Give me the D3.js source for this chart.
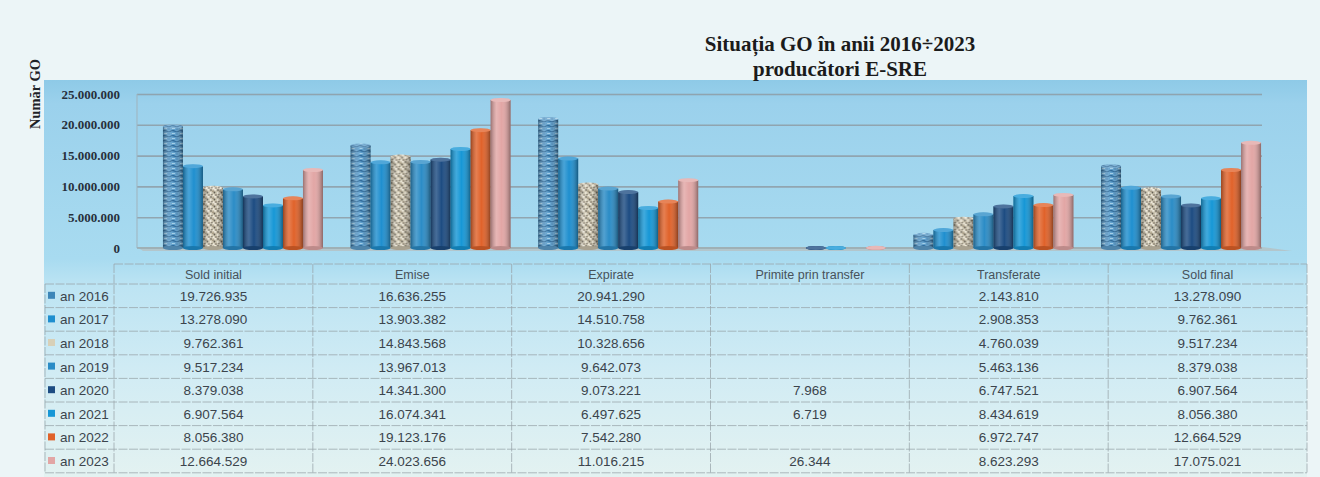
<!DOCTYPE html>
<html>
<head>
<meta charset="utf-8">
<script src="https://cdn.jsdelivr.net/npm/d3@7"></script>
<style>
  html, body { margin: 0; padding: 0; background: #ecf5f7; }
  svg { display: block; }
</style>
</head>
<body>
<svg id="chart" width="1320" height="477"></svg>
<script>
// ---------- DATA ----------
const categories = ["Sold initial", "Emise", "Expirate", "Primite prin transfer", "Transferate", "Sold final"];
const years = ["an 2016", "an 2017", "an 2018", "an 2019", "an 2020", "an 2021", "an 2022", "an 2023"];
const an2016 = [19726935, 16636255, 20941290, null, 2143810, 13278090];
const an2017 = [13278090, 13903382, 14510758, null, 2908353, 9762361];
const an2018 = [9762361, 14843568, 10328656, null, 4760039, 9517234];
const an2019 = [9517234, 13967013, 9642073, null, 5463136, 8379038];
const an2020 = [8379038, 14341300, 9073221, 7968, 6747521, 6907564];
const an2021 = [6907564, 16074341, 6497625, 6719, 8434619, 8056380];
const an2022 = [8056380, 19123176, 7542280, null, 6972747, 12664529];
const an2023 = [12664529, 24023656, 11016215, 26344, 8623293, 17075021];
const seriesValues = [an2016, an2017, an2018, an2019, an2020, an2021, an2022, an2023];
const yTicks = [0, 5000000, 10000000, 15000000, 20000000, 25000000];
const titleLines = ["Situația GO în anii 2016÷2023", "producători E-SRE"];
const yTitle = "Număr GO";

// ---------- STYLE ----------
const seriesFill = ["url(#p2016)", "#1f8fcf", "url(#p2018)", "#2b8cc6", "#1d4c82", "#1697d6", "#e0622a", "#e2a6a5"];
const seriesBase = ["#5d9ecb", "#1f8fcf", "#c9c1ab", "#2b8cc6", "#1d4c82", "#1697d6", "#e0622a", "#e2a6a5"];

const locale = d3.formatLocale({decimal: ",", thousands: ".", grouping: [3], currency: ["", ""]});
const fmt = locale.format(",d");

const svg = d3.select("#chart");
const defs = svg.append("defs");

// background gradient
const bg = defs.append("linearGradient").attr("id", "bgGrad").attr("x1", 0).attr("y1", 0).attr("x2", 0).attr("y2", 1);
[[0, "#8ecae7"], [0.06, "#9bd1ec"], [0.45, "#a8dbf0"], [0.52, "#bde4f3"], [0.75, "#d2ecf4"], [1, "#e3f2f1"]]
  .forEach(([o, c]) => bg.append("stop").attr("offset", o).attr("stop-color", c));

// cylinder shading overlay
const sh = defs.append("linearGradient").attr("id", "shade").attr("x1", 0).attr("x2", 1).attr("y1", 0).attr("y2", 0);
[[0, "#000", 0.32], [0.3, "#fff", 0.18], [0.55, "#fff", 0.0], [1, "#000", 0.38]]
  .forEach(([o, c, a]) => sh.append("stop").attr("offset", o).attr("stop-color", c).attr("stop-opacity", a));

// textures
const p16 = defs.append("pattern").attr("id", "p2016").attr("patternUnits", "userSpaceOnUse").attr("width", 8).attr("height", 5);
p16.append("rect").attr("width", 8).attr("height", 5).attr("fill", "#5d9ecb");
p16.append("path").attr("d", "M0,1 Q2,0 4,1.2 T8,1").attr("stroke", "#2b6898").attr("stroke-width", 1.2).attr("fill", "none");
p16.append("rect").attr("x", 1).attr("y", 3).attr("width", 3).attr("height", 1).attr("fill", "#a3cde6");
p16.append("rect").attr("x", 5).attr("y", 3.5).attr("width", 2).attr("height", 1).attr("fill", "#3f7fb0");

const p18 = defs.append("pattern").attr("id", "p2018").attr("patternUnits", "userSpaceOnUse").attr("width", 7).attr("height", 7);
p18.append("rect").attr("width", 7).attr("height", 7).attr("fill", "#cbc3ad");
[[1, 1, "#6b6558"], [4.5, 3.5, "#5f5a4f"], [2, 5.6, "#7a7262"], [3, 2.2, "#9b8f78"], [6, 6, "#8a8070"]]
  .forEach(([cx, cy, c]) => p18.append("circle").attr("cx", cx).attr("cy", cy).attr("r", 0.9).attr("fill", c));
[[5.2, 0.8], [0.6, 4], [3.5, 6.3]]
  .forEach(([cx, cy]) => p18.append("circle").attr("cx", cx).attr("cy", cy).attr("r", 1).attr("fill", "#efeadc"));

// ---------- BACKGROUND ----------
svg.append("rect").attr("width", 1320).attr("height", 477).attr("fill", "#ecf5f7");
svg.append("rect").attr("x", 44).attr("y", 80).attr("width", 1263).attr("height", 397).attr("fill", "url(#bgGrad)");

// ---------- TITLE ----------
svg.append("g").selectAll("text").data(titleLines).join("text")
  .attr("x", 840).attr("y", (d, i) => 51 + i * 25)
  .attr("text-anchor", "middle")
  .attr("font-family", "'Liberation Serif', 'Times New Roman', serif")
  .attr("font-weight", "bold").attr("font-size", 21)
  .attr("fill", "#1b1b1b").text(d => d);

svg.append("text")
  .attr("transform", "translate(40,94) rotate(-90)")
  .attr("text-anchor", "middle")
  .attr("font-family", "'Liberation Serif', 'Times New Roman', serif")
  .attr("font-weight", "bold").attr("font-size", 14.5)
  .attr("fill", "#1e2227").text(yTitle);

// ---------- SCALES ----------
const wallL = 137, wallR = 1262;
const y = d3.scaleLinear().domain([0, 25000000]).range([248, 94]);
const x = d3.scaleBand().domain(categories).range([150, 1274]).paddingInner(0.147).paddingOuter(0.069);
const xs = d3.scaleBand().domain(years).range([0, x.bandwidth()]).padding(0);

// gridlines
const grid = svg.append("g").attr("transform", `translate(${wallL},0)`)
  .call(d3.axisLeft(y).tickValues(yTicks.slice(1)).tickSize(-(wallR - wallL)).tickFormat(""));
grid.select(".domain").remove();
grid.selectAll(".tick line").attr("stroke", "#8e9ca4").attr("stroke-width", 1.6).attr("stroke-opacity", 0.85);

// left wall edge
svg.append("line").attr("x1", wallL).attr("x2", wallL).attr("y1", y(25000000)).attr("y2", y(0))
  .attr("stroke", "#9fb3bd").attr("stroke-width", 1);

// floor
svg.append("path")
  .attr("d", `M${wallL},${y(0) - 1} L${wallR},${y(0) - 1} L${wallR + 30},${y(0) + 3} L${wallL + 6},${y(0) + 3} Z`)
  .attr("fill", "#b4c3c8").attr("opacity", 0.9);
svg.append("line").attr("x1", wallL).attr("x2", wallR).attr("y1", y(0)).attr("y2", y(0))
  .attr("stroke", "#98a8ae").attr("stroke-width", 1.5);

// y axis labels
const yAx = svg.append("g").attr("transform", `translate(${wallL},0)`)
  .call(d3.axisLeft(y).tickValues(yTicks).tickSize(0).tickPadding(17).tickFormat(d => fmt(d)));
yAx.select(".domain").remove();
yAx.selectAll("text")
  .attr("font-family", "'Liberation Serif', 'Times New Roman', serif")
  .attr("font-weight", "bold").attr("font-size", 13).attr("fill", "#27303c");

// ---------- BARS ----------
const barData = [];
categories.forEach((c, ci) => {
  years.forEach((yr, si) => {
    const v = seriesValues[si][ci];
    if (v !== null && v !== undefined) barData.push({c, yr, si, v});
  });
});

const bw = xs.bandwidth();
const bars = svg.append("g").selectAll("g").data(barData).join("g")
  .attr("transform", d => `translate(${x(d.c) + xs(d.yr)},0)`);

bars.append("rect")
  .attr("x", 0).attr("width", bw)
  .attr("y", d => y(d.v)).attr("height", d => y(0) - y(d.v))
  .attr("fill", d => seriesFill[d.si]);
bars.append("rect")
  .attr("x", 0).attr("width", bw)
  .attr("y", d => y(d.v)).attr("height", d => y(0) - y(d.v))
  .attr("fill", "url(#shade)");
bars.append("ellipse")
  .attr("cx", bw / 2).attr("cy", y(0)).attr("rx", bw / 2).attr("ry", 2)
  .attr("fill", d => d3.color(seriesBase[d.si]).darker(0.5));
bars.append("ellipse")
  .attr("cx", bw / 2).attr("cy", d => y(d.v)).attr("rx", bw / 2).attr("ry", 2)
  .attr("fill", d => seriesFill[d.si]);
bars.append("ellipse")
  .attr("cx", bw / 2).attr("cy", d => y(d.v)).attr("rx", bw / 2).attr("ry", 2)
  .attr("fill", "#fff").attr("fill-opacity", 0.22);

// ---------- DATA TABLE ----------
const tx = d3.scaleBand().domain(categories).range([114, 1307]);
const headTop = 264, headBot = 284, rowH = 23.6;
const tableBottom = headBot + rowH * years.length;
const legL = 45;
const tfont = "'Liberation Sans', Arial, sans-serif";
const lineCol = "#98a4a9";

const tbl = svg.append("g");
const styleLine = sel => sel.attr("stroke", lineCol).attr("stroke-width", 1)
  .attr("stroke-opacity", 0.75).attr("stroke-dasharray", "9,1.5");
// horizontal lines
tbl.append("line").attr("x1", 114).attr("x2", 1307).attr("y1", headTop).attr("y2", headTop).call(styleLine);
d3.range(years.length + 1).forEach(i => {
  tbl.append("line").attr("x1", legL).attr("x2", 1307)
    .attr("y1", headBot + i * rowH).attr("y2", headBot + i * rowH).call(styleLine);
});
// vertical lines
const vEdges = categories.map(c => tx(c)).concat([tx.range()[1]]);
vEdges.forEach(xv => {
  tbl.append("line").attr("x1", xv).attr("x2", xv).attr("y1", headTop).attr("y2", tableBottom).call(styleLine);
});
tbl.append("line").attr("x1", legL).attr("x2", legL).attr("y1", headBot).attr("y2", tableBottom).call(styleLine);

// header
tbl.selectAll("text.head").data(categories).join("text").attr("class", "head")
  .attr("x", d => tx(d) + tx.bandwidth() / 2).attr("y", (headTop + headBot) / 2 + 4.5)
  .attr("text-anchor", "middle").attr("font-family", tfont).attr("font-size", 12.5)
  .attr("fill", "#47525a").text(d => d);

// rows
years.forEach((yr, si) => {
  const cy = headBot + si * rowH + rowH / 2;
  tbl.append("rect").attr("x", 48).attr("y", cy - 4).attr("width", 7).attr("height", 7)
    .attr("fill", si === 0 ? "#3d86b8" : (si === 2 ? "#d8d0b8" : seriesBase[si]));
  tbl.append("text").attr("x", 60).attr("y", cy + 5)
    .attr("font-family", tfont).attr("font-size", 13.5).attr("fill", "#3b444c").text(yr);
  categories.forEach((c, ci) => {
    const v = seriesValues[si][ci];
    if (v === null || v === undefined) return;
    tbl.append("text").attr("x", tx(c) + tx.bandwidth() / 2).attr("y", cy + 5)
      .attr("text-anchor", "middle").attr("font-family", tfont).attr("font-size", 13.5)
      .attr("fill", "#3b444c").text(fmt(v));
  });
});
</script>
</body>
</html>
